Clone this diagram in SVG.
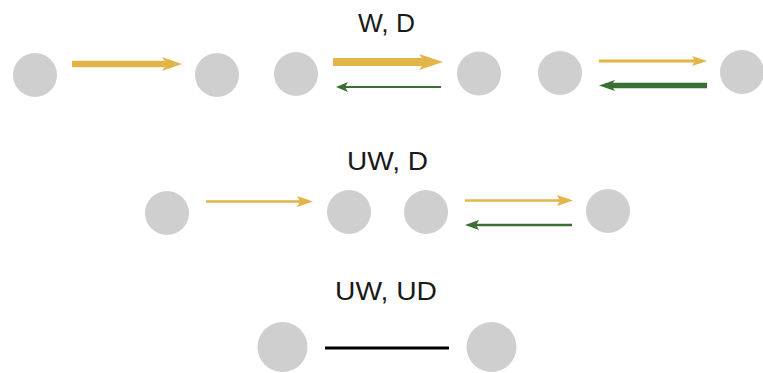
<svg xmlns="http://www.w3.org/2000/svg" width="763" height="373" viewBox="0 0 763 373">
<style>
.node{fill:#D0CFD0}
.lbl{font-family:"Liberation Sans",Arial,sans-serif;font-size:26px;fill:#1a1a1a}
.y{stroke:#E3B448;fill:none}
.g{stroke:#3B6E33;fill:none}
.yh{fill:#E3B448}
.gh{fill:#3B6E33}
.k{stroke:#000;fill:none}
</style>
<rect width="763" height="373" fill="#fff"/>
<text class="lbl" x="358" y="31.5" textLength="57" lengthAdjust="spacingAndGlyphs">W, D</text>
<text class="lbl" x="347" y="170" textLength="81" lengthAdjust="spacingAndGlyphs">UW, D</text>
<text class="lbl" x="335" y="300" textLength="102" lengthAdjust="spacingAndGlyphs">UW, UD</text>
<g id="n1"><circle class="node" cx="35" cy="75" r="22"/></g>
<g id="n2"><circle class="node" cx="217" cy="75" r="22"/></g>
<g id="n3"><circle class="node" cx="296" cy="74" r="22"/></g>
<g id="n4"><circle class="node" cx="479" cy="73.5" r="22"/></g>
<g id="n5"><circle class="node" cx="560" cy="73" r="22"/></g>
<g id="n6"><circle class="node" cx="742" cy="72" r="22"/></g>
<g id="n7"><circle class="node" cx="167" cy="213" r="22"/></g>
<g id="n8"><circle class="node" cx="349" cy="212" r="22"/></g>
<g id="n9"><circle class="node" cx="426" cy="212" r="22"/></g>
<g id="n10"><circle class="node" cx="608" cy="211" r="22"/></g>
<g id="n11"><circle class="node" cx="282.5" cy="347" r="25"/></g>
<g id="n12"><circle class="node" cx="491.5" cy="347" r="25"/></g>
<g id="connectors">
<line class="y" x1="72" y1="64" x2="168" y2="64" stroke-width="6.5"/>
<path class="yh" d="M182,64 L162,57 L167,64 L162,71 Z"/>
<line class="y" x1="333" y1="62" x2="426" y2="62" stroke-width="8"/>
<path class="yh" d="M443,62 L419,54 L425,62 L419,70 Z"/>
<line class="g" x1="441" y1="87" x2="343" y2="87" stroke-width="2"/>
<path class="gh" d="M336,87 L348,82 L345,87 L348,92 Z"/>
<line class="y" x1="599" y1="61" x2="698" y2="61" stroke-width="3"/>
<path class="yh" d="M707,61 L692,56 L695,61 L692,66 Z"/>
<line class="g" x1="707" y1="85.5" x2="610" y2="85.5" stroke-width="5.5"/>
<path class="gh" d="M599,85.5 L615,80 L611,85.5 L615,91 Z"/>
<line class="y" x1="206" y1="201.5" x2="303" y2="201.5" stroke-width="2.5"/>
<path class="yh" d="M313,201.5 L297,196 L300,201.5 L297,207 Z"/>
<line class="y" x1="465" y1="200.5" x2="563" y2="200.5" stroke-width="2.5"/>
<path class="yh" d="M573,200.5 L557,195 L560,200.5 L557,206 Z"/>
<line class="g" x1="572" y1="225" x2="473" y2="225" stroke-width="2.5"/>
<path class="gh" d="M465,225 L479,220 L476,225 L479,230 Z"/>
<line class="k" x1="325" y1="348" x2="449" y2="348" stroke-width="3"/>
</g>
</svg>
